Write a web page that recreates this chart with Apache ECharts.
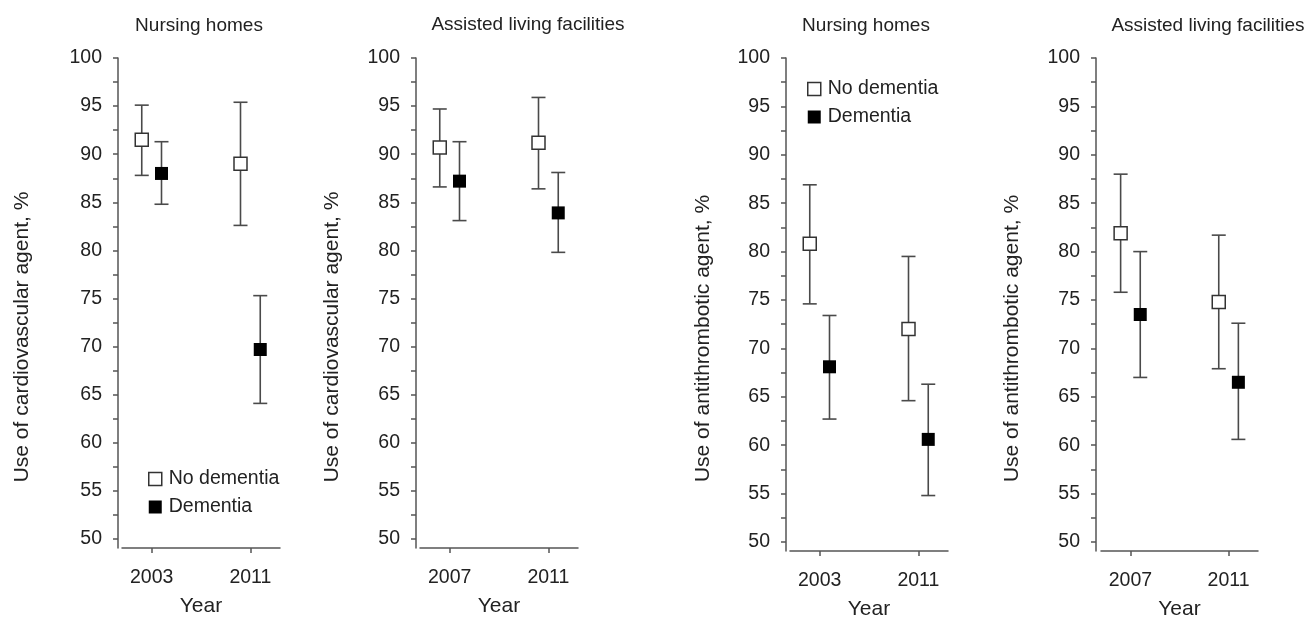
<!DOCTYPE html>
<html>
<head>
<meta charset="utf-8">
<script src="https://cdn.jsdelivr.net/npm/echarts@6/dist/echarts.min.js"></script>
<style>
html,body{margin:0;padding:0;background:#fff;}
#c{width:1311px;height:617px;}
</style>
</head>
<body>
<div id="c"></div>
<script>
// ---- data ----
const panelTitles = ['Nursing homes', 'Assisted living facilities', 'Nursing homes', 'Assisted living facilities'];
const yAxisNames = ['Use of cardiovascular agent, %', 'Use of cardiovascular agent, %', 'Use of antithrombotic agent, %', 'Use of antithrombotic agent, %'];
const yearLabels = [['2003', '2011'], ['2007', '2011'], ['2003', '2011'], ['2007', '2011']];
const seriesNames = ['No dementia', 'Dementia'];
const xAxisName = 'Year';
const yTickLabels = [50, 55, 60, 65, 70, 75, 80, 85, 90, 95, 100];
const yMinorTicks = [50, 52.5, 55, 57.5, 60, 62.5, 65, 67.5, 70, 72.5, 75, 77.5, 80, 82.5, 85, 87.5, 90, 92.5, 95, 97.5, 100];

// estimates and 95% CI per panel, [first year, second year]
const noDemEst  = [[91.5, 89.0], [90.7, 91.2], [80.8, 72.0], [81.9, 74.8]];
const noDemLow  = [[87.8, 82.6], [86.6, 86.4], [74.6, 64.6], [75.8, 67.9]];
const noDemHigh = [[95.1, 95.4], [94.7, 95.9], [86.9, 79.5], [88.0, 81.7]];
const demEst    = [[88.0, 69.7], [87.2, 83.9], [68.1, 60.6], [73.5, 66.5]];
const demLow    = [[84.8, 64.1], [83.1, 79.8], [62.7, 54.8], [67.0, 60.6]];
const demHigh   = [[91.3, 75.3], [91.3, 88.1], [73.4, 66.3], [80.0, 72.6]];

// ---- layout ----
const FONT = "'Liberation Sans', Arial, sans-serif";
const TXT = '#222';
const AX = '#555';
const grids = [
  {left: 122, top: 58, width: 158, height: 490},
  {left: 420, top: 58, width: 158, height: 490},
  {left: 790, top: 58, width: 158, height: 493},
  {left: 1101, top: 58, width: 157, height: 493}
];
const yOffsets = [4, 4, 4, 5];
const yNameGaps = [85, 73, 72, 73];
const titleCenters = [[199, 16], [528, 15], [866, 16], [1208, 16]];
const GROUP_SHIFT = 0.1;

const option = {
  animation: false,
  backgroundColor: '#fff',
  textStyle: {fontFamily: FONT},
  title: panelTitles.map((t, i) => ({
    text: t, left: titleCenters[i][0], top: titleCenters[i][1], textAlign: 'center', padding: 0,
    textStyle: {fontFamily: FONT, fontSize: 19, fontWeight: 'normal', color: TXT}
  })),
  legend: [
    {left: 148, top: 469, padding: 0},
    {left: 807, top: 79, padding: 0}
  ].map(l => Object.assign(l, {
    orient: 'vertical', itemWidth: 13, itemHeight: 13, itemGap: 8,
    selectedMode: false,
    textStyle: {fontFamily: FONT, fontSize: 19.5, color: TXT, lineHeight: 19, padding: [0, 0, 0, 2]},
    data: [
      {name: seriesNames[0], icon: 'rect', itemStyle: {color: '#fff', borderColor: '#333', borderWidth: 1.5, opacity: 1}},
      {name: seriesNames[1], icon: 'rect', itemStyle: {color: '#000', borderWidth: 0, opacity: 1}}
    ]
  })),
  grid: grids.map(g => Object.assign({containLabel: false, outerBoundsMode: 'none'}, g)),
  xAxis: grids.map((g, i) => ({
    type: 'value', gridIndex: i, min: -0.3, max: 1.3,
    name: xAxisName, nameLocation: 'middle', nameGap: 48,
    nameTextStyle: {fontFamily: FONT, fontSize: 21, color: TXT},
    axisLine: {onZero: false, lineStyle: {color: AX, width: 1.5}},
    axisTick: {show: true, length: 5, customValues: [0, 1], lineStyle: {color: AX, width: 1.5}},
    axisLabel: {customValues: [0, 1], margin: 20, fontFamily: FONT, fontSize: 19.5, color: TXT,
      formatter: v => yearLabels[i][Math.round(v)]},
    splitLine: {show: false}
  })),
  yAxis: grids.map((g, i) => ({
    type: 'value', gridIndex: i, min: 49.07, max: 100, offset: yOffsets[i],
    name: yAxisNames[i], nameLocation: 'middle', nameGap: yNameGaps[i], nameRotate: 90,
    nameTextStyle: {fontFamily: FONT, fontSize: 21, color: TXT, padding: [0, 68, 0, 0]},
    axisLine: {show: true, onZero: false, lineStyle: {color: AX, width: 1.5}},
    axisTick: {show: true, length: 5, customValues: yMinorTicks, lineStyle: {color: AX, width: 1.5}},
    axisLabel: {customValues: yTickLabels, margin: 16, fontFamily: FONT, fontSize: 19.5, color: TXT},
    splitLine: {show: false}
  })),
  series: []
};

function errorBarItem(params, api) {
  const x = api.value(0), lo = api.value(1), hi = api.value(2);
  const t = api.coord([x, hi]);
  const b = api.coord([x, lo]);
  const hw = 7;
  const st = {stroke: '#4a4a4a', lineWidth: 1.6};
  return {type: 'group', children: [
    {type: 'line', shape: {x1: t[0], y1: t[1], x2: b[0], y2: b[1]}, style: st},
    {type: 'line', shape: {x1: t[0] - hw, y1: t[1], x2: t[0] + hw, y2: t[1]}, style: st},
    {type: 'line', shape: {x1: b[0] - hw, y1: b[1], x2: b[0] + hw, y2: b[1]}, style: st}
  ]};
}

const groups = [
  {name: seriesNames[0], est: noDemEst, low: noDemLow, high: noDemHigh, shift: -GROUP_SHIFT,
   style: {color: '#fff', borderColor: '#333', borderWidth: 1.5, opacity: 1}},
  {name: seriesNames[1], est: demEst, low: demLow, high: demHigh, shift: GROUP_SHIFT,
   style: {color: '#000', borderColor: '#000', borderWidth: 0, opacity: 1}}
];

for (let p = 0; p < 4; p++) {
  groups.forEach(gr => {
    option.series.push({
      type: 'custom', name: gr.name + ' CI', xAxisIndex: p, yAxisIndex: p, z: 2,
      renderItem: errorBarItem, encode: {x: 0, y: [1, 2]},
      data: gr.est[p].map((v, k) => [k + gr.shift, gr.low[p][k], gr.high[p][k]])
    });
  });
  groups.forEach(gr => {
    option.series.push({
      type: 'scatter', name: gr.name, xAxisIndex: p, yAxisIndex: p, z: 5,
      symbol: 'rect', symbolSize: 13, itemStyle: gr.style,
      data: gr.est[p].map((v, k) => [k + gr.shift, v])
    });
  });
}

const chart = echarts.init(document.getElementById('c'), null, {renderer: 'canvas'});
chart.setOption(option);
</script>
</body>
</html>
